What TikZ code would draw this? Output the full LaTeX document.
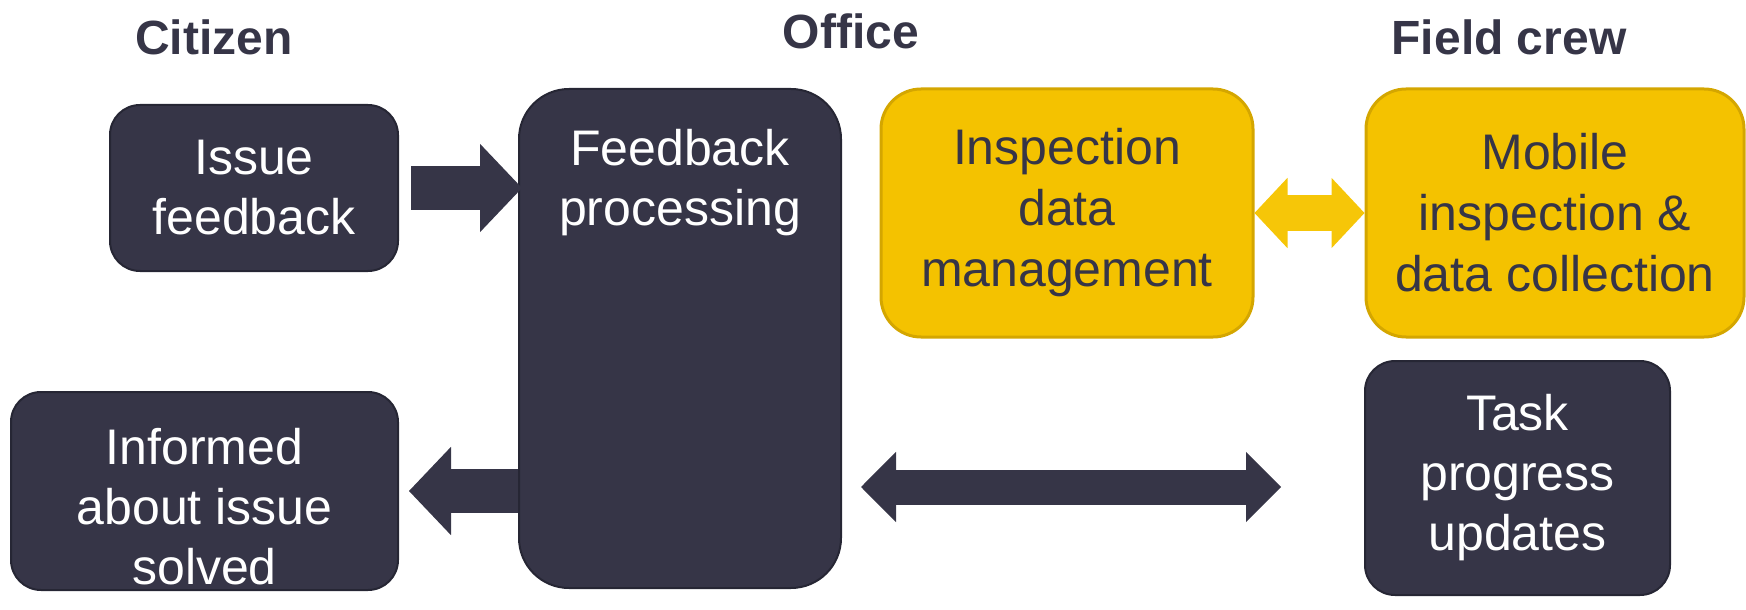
\documentclass[tikz,border=0pt]{standalone}
\usepackage{fontspec}
\setmainfont{Liberation Sans}
\usepackage{xcolor}
\usetikzlibrary{arrows.meta, positioning, calc}
\definecolor{slate}{RGB}{54, 53, 71}
\definecolor{slateedge}{RGB}{38, 38, 52}
\definecolor{gold}{RGB}{244, 194, 0}
\definecolor{goldedge}{RGB}{212, 166, 0}
\definecolor{goldarrowfill}{RGB}{246, 198, 8}
\tikzstyle{header} = [font=\fontsize{24}{28}\selectfont\bfseries, text=slate]
\tikzstyle{darkbox} = [rectangle, rounded corners=15pt, draw=slateedge, line width=1pt, fill=slate, text=white, align=center, font=\fontsize{25}{30}\selectfont]
\tikzstyle{goldbox} = [rectangle, rounded corners=20pt, draw=goldedge, line width=1.5pt, fill=gold, text=slate, align=center, font=\fontsize{25}{30.5}\selectfont]
\tikzstyle{fatarrow} = [draw=slate, line width=22pt, -{Triangle[width=44pt, length=21pt, line width=1pt]}]
\tikzstyle{longarrow} = [draw=slate, line width=17.5pt, {Triangle[width=35pt, length=17.5pt, line width=1pt]}-{Triangle[width=35pt, length=17.5pt, line width=1pt]}]
\tikzstyle{goldarrow} = [draw=goldarrowfill, line width=18pt, {Triangle[width=35pt, length=16.5pt, line width=1pt]}-{Triangle[width=35pt, length=16.5pt, line width=1pt]}]

\begin{document}
\begin{tikzpicture}[x=0.5pt, y=-0.5pt]
    \useasboundingbox (0,0) rectangle (1746,610);

    % Column headers
    \node[header] (hcitizen) at (214, 37) {Citizen};
    \node[header] (hoffice) at (851, 31) {Office};
    \node[header] (hfield) at (1509, 37) {Field crew};

    % Citizen
    \node[darkbox, minimum width=144pt, minimum height=83pt] (issue) at (254, 188) {Issue\\feedback};
    \node[darkbox, minimum width=193.5pt, minimum height=99pt,
          label={[darkbox, draw=none, fill=none, yshift=-8pt]center:{Informed\\about issue\\solved}}] (informed) at (204.5, 491) {};

    % Office
    \node[darkbox, rounded corners=25pt, minimum width=161pt, minimum height=249.5pt,
          label={[darkbox, draw=none, fill=none, anchor=north, yshift=-17pt]north:{Feedback\\processing}}] (fbproc) at (680, 338.5) {};
    \node[goldbox, minimum width=186pt, minimum height=124pt] (inspect) at (1067, 213) {Inspection\\data\\management};

    % Field crew
    \node[goldbox, minimum width=189pt, minimum height=124pt] (mobile) at (1555, 213) {Mobile\\inspection \&\\data collection};
    \node[darkbox, minimum width=152.5pt, minimum height=117pt] (task) at (1517.5, 478) {Task\\progress\\updates};

    % Connections
    \draw[fatarrow] ($(issue.east)+(12,0)$) -- ($(fbproc.west |- issue.east)+(4,0)$);
    \draw[fatarrow] (fbproc.west |- informed.east) -- ($(informed.east)+(10,0)$);
    \draw[longarrow] ($(fbproc.east |- informed.east)+(19,-4)$) -- ($(task.west |- informed.east)+(-83,-4)$);
    \draw[goldarrow] (inspect.east) -- (mobile.west);
\end{tikzpicture}
\end{document}
